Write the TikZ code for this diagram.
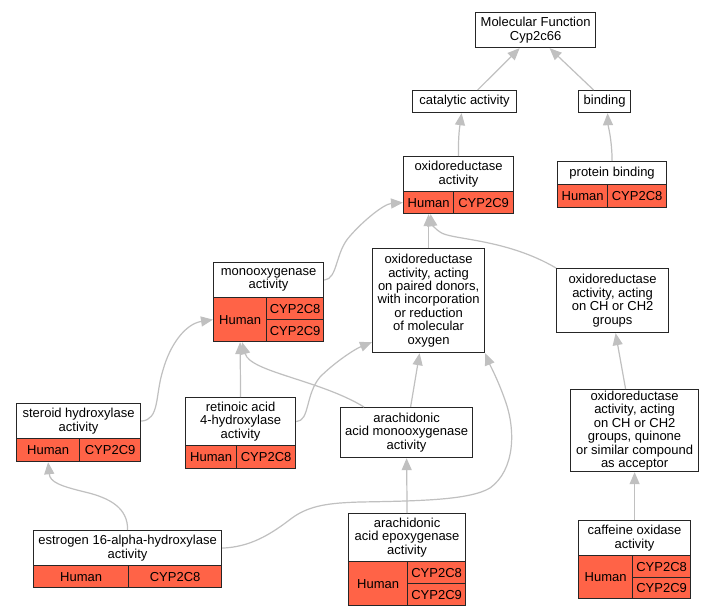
\documentclass[tikz,border=0pt]{standalone}
\usepackage{fontspec}
\setmainfont{Liberation Sans}
\usetikzlibrary{arrows.meta,calc}
\definecolor{cellred}{HTML}{FF6347}
\definecolor{edgegray}{HTML}{C0C0C0}
\newcommand\gofont{\fontsize{13}{13.4}\selectfont}
\tikzset{
  term/.style={draw=black!85, line width=1.2pt, fill=white, align=center, inner sep=0pt, anchor=north west, font=\gofont},
  cell/.style={term, fill=cellred},
  isa/.style={draw=edgegray, line width=1.2pt, -{Triangle[length=12pt,width=10pt]}},
}

\begin{document}
\begin{tikzpicture}[x=1pt, y=-1pt]
\useasboundingbox[fill=white] (0,0) rectangle (713,616);
% top of the tree
\node[term, minimum width=120pt, minimum height=35pt] (mf) at (475,12) {Molecular Function\\Cyp2c66};
\node[term, minimum width=104pt, minimum height=22pt] (cat) at (412,90) {catalytic activity};
\node[term, minimum width=52pt, minimum height=22pt] (bind) at (578,90) {binding};
\node[term, minimum width=109pt, minimum height=23pt] (pb) at (557,161) {protein binding};
\node[cell, minimum width=50pt, minimum height=23pt] (pbH) at (557,184) {Human};
\node[cell, minimum width=59pt, minimum height=23pt] (pbC8) at (607,184) {CYP2C8};
\node[term, minimum width=110pt, minimum height=35pt] (oxr) at (403,156) {oxidoreductase\\activity};
\node[cell, minimum width=50pt, minimum height=22pt] (oxrH) at (403,191) {Human};
\node[cell, minimum width=60pt, minimum height=22pt] (oxrC9) at (453,191) {CYP2C9};
% middle
\node[term, minimum width=110pt, minimum height=35pt] (mono) at (213,262) {monooxygenase\\activity};
\node[cell, minimum width=53pt, minimum height=44pt] (monoH) at (213,297) {Human};
\node[cell, minimum width=57pt, minimum height=22pt] (monoC8) at (266,297) {CYP2C8};
\node[cell, minimum width=57pt, minimum height=22pt] (monoC9) at (266,319) {CYP2C9};
\node[term, minimum width=112pt, minimum height=104pt] (pd) at (372,248) {oxidoreductase\\activity, acting\\on paired donors,\\with incorporation\\or reduction\\of molecular\\oxygen};
\node[term, minimum width=112pt, minimum height=64pt] (ch) at (556,268) {oxidoreductase\\activity, acting\\on CH or CH2\\groups};
\node[term, minimum width=124pt, minimum height=35pt] (ster) at (16,403) {steroid hydroxylase\\activity};
\node[cell, minimum width=63pt, minimum height=23pt] (sterH) at (16,438) {Human};
\node[cell, minimum width=61pt, minimum height=23pt] (sterC9) at (79,438) {CYP2C9};
\node[term, minimum width=110pt, minimum height=48pt] (ret) at (185,397) {retinoic acid\\4-hydroxylase\\activity};
\node[cell, minimum width=51pt, minimum height=23pt] (retH) at (185,445) {Human};
\node[cell, minimum width=59pt, minimum height=23pt] (retC8) at (236,445) {CYP2C8};
\node[term, minimum width=132pt, minimum height=50pt] (am) at (340,407) {arachidonic\\acid monooxygenase\\activity};
\node[term, minimum width=128pt, minimum height=82pt] (qu) at (570,389) {oxidoreductase\\activity, acting\\on CH or CH2\\groups, quinone\\or similar compound\\as acceptor};
% bottom row
\node[term, minimum width=188pt, minimum height=35pt] (estr) at (33,530) {estrogen 16-alpha-hydroxylase\\activity};
\node[cell, minimum width=95pt, minimum height=22pt] (estrH) at (33,565) {Human};
\node[cell, minimum width=93pt, minimum height=22pt] (estrC8) at (128,565) {CYP2C8};
\node[term, minimum width=117pt, minimum height=48pt] (epo) at (348,513) {arachidonic\\acid epoxygenase\\activity};
\node[cell, minimum width=59pt, minimum height=44pt] (epoH) at (348,561) {Human};
\node[cell, minimum width=58pt, minimum height=22pt] (epoC8) at (407,561) {CYP2C8};
\node[cell, minimum width=58pt, minimum height=22pt] (epoC9) at (407,583) {CYP2C9};
\node[term, minimum width=112pt, minimum height=35pt] (caf) at (578,520) {caffeine oxidase\\activity};
\node[cell, minimum width=54pt, minimum height=43pt] (cafH) at (578,555) {Human};
\node[cell, minimum width=58pt, minimum height=22pt] (cafC8) at (632,555) {CYP2C8};
\node[cell, minimum width=58pt, minimum height=21pt] (cafC9) at (632,577) {CYP2C9};
% is_a edges
\draw[isa] ([xshift=13pt]cat.north) -- ([xshift=-16pt]mf.south);
\draw[isa] ([xshift=-11pt]bind.north) -- ([xshift=14pt]mf.south);
\draw[isa] (oxr.north) .. controls (458,135) and (460,125) .. ([xshift=-3pt]cat.south);
\draw[isa] (pb.north) .. controls (612,140) and (608,125) .. ([xshift=3pt]bind.south);
\draw[isa] (mono.east) .. controls (338,279) and (335,252) .. (350,236) .. controls (364,220) and (384,204) .. (oxrH.west);
\draw[isa] (pd.north) -- (oxrH.south);
\draw[isa] (ch.north west) .. controls (505,238) and (450,240) .. (440,232) .. controls (434,228) and (432,224) .. ([xshift=2pt]oxrH.south);
\draw[isa] (ster.east) .. controls (160,420) and (155,395) .. (163,370) .. controls (170,345) and (185,324) .. (monoH.west);
\draw[isa] (ret.north) -- (monoH.south);
\draw[isa] (ret.east) .. controls (310,421) and (305,395) .. (320,377) .. controls (335,362) and (355,349) .. ($(pd.south west)+(0,-11)$);
\draw[isa] ($(am.north west)+(24,0)$) .. controls (320,380) and (250,372) .. ([xshift=2pt]monoH.south);
\draw[isa] ($(am.north)+(4,0)$) -- ($(pd.south)+(-9,0)$);
\draw[isa] (estr.north) .. controls (128,508) and (110,498) .. (85,492) .. controls (60,486) and (50,482) .. (sterH.south);
\draw[isa] (estr.east) .. controls (250,547) and (270,535) .. (292,518) .. controls (310,505) and (330,503) .. (360,502) .. controls (420,501) and (470,500) .. (490,488) .. controls (515,470) and (516,430) .. (505,400) .. controls (498,380) and (490,365) .. (pd.south east);
\draw[isa] (epo.north) -- (am.south);
\draw[isa] ($(qu.north)+(-9,0)$) -- ($(ch.south)+(3,0)$);
\draw[isa] (caf.north) -- (qu.south);
\end{tikzpicture}
\end{document}
